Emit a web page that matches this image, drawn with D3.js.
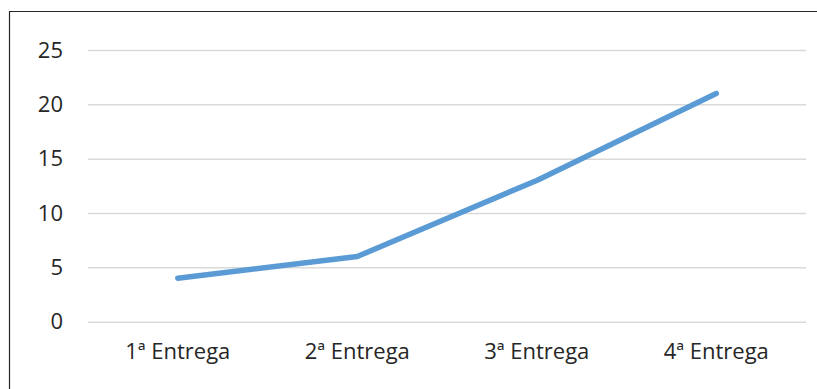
<!DOCTYPE html>
<html>
<head>
<meta charset="utf-8">
<script src="https://cdn.jsdelivr.net/npm/d3@7/dist/d3.min.js"></script>
<style>
  html, body { margin: 0; padding: 0; background: #fff; }
  svg { display: block; }
  text { font-family: "Open Sans", sans-serif; fill: #262626; }
</style>
</head>
<body>
<svg id="chart" width="817" height="389"></svg>
<script>
const categories = ["1ª Entrega", "2ª Entrega", "3ª Entrega", "4ª Entrega"];
const values = [4, 6, 13, 21];
const yTicks = [0, 5, 10, 15, 20, 25];

const W = 817, H = 389;
const plot = { left: 88, right: 806, top: 50, bottom: 321.7 };

const svg = d3.select("#chart");

// outer frame (left and top edges visible)
svg.append("path")
  .attr("d", `M9.5,${H} L9.5,11.5 L${W},11.5`)
  .attr("fill", "none")
  .attr("stroke", "#262626")
  .attr("stroke-width", 1.2);

const x = d3.scaleBand().domain(categories).range([plot.left, plot.right]).padding(0);
const y = d3.scaleLinear().domain([0, 25]).range([plot.bottom, plot.top]);

// gridlines
const yAxis = d3.axisLeft(y).tickValues(yTicks).tickSize(-(plot.right - plot.left)).tickPadding(25);
const gy = svg.append("g").attr("transform", `translate(${plot.left},0)`).call(yAxis);
gy.select(".domain").remove();
gy.selectAll(".tick line").attr("stroke", "#d9d9d9").attr("stroke-width", 1.5);
gy.selectAll(".tick text")
  .attr("font-size", 22)
  .attr("fill", "#262626")
  .style("font-family", "'Open Sans', sans-serif");

// x axis labels
const xAxis = d3.axisBottom(x).tickSize(0).tickPadding(22);
const gx = svg.append("g").attr("transform", `translate(0,${plot.bottom})`).call(xAxis);
gx.select(".domain").remove();
gx.selectAll(".tick text")
  .attr("font-size", 22)
  .attr("fill", "#262626")
  .style("font-family", "'Open Sans', sans-serif");

// line
const line = d3.line()
  .x((d, i) => x(categories[i]) + x.bandwidth() / 2)
  .y(d => y(d));

svg.append("path")
  .datum(values)
  .attr("d", line)
  .attr("fill", "none")
  .attr("stroke", "#5b9bd5")
  .attr("stroke-width", 5.5)
  .attr("stroke-linecap", "round")
  .attr("stroke-linejoin", "round");
</script>
</body>
</html>
